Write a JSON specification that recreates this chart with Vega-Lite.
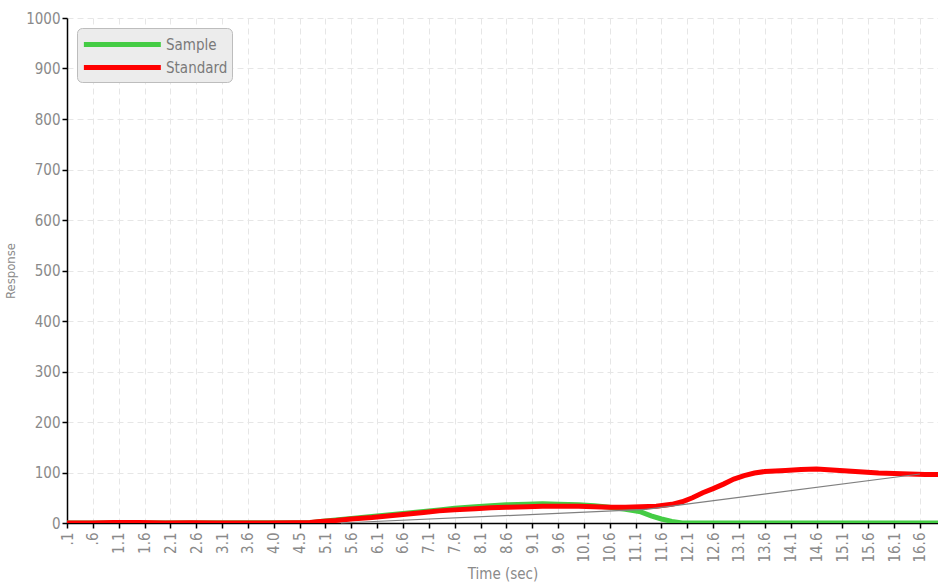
{
  "$schema": "https://vega.github.io/schema/vega-lite/v6.json",
  "width": 871,
  "height": 505,
  "autosize": {"type": "none"},
  "padding": {"left": 67, "top": 18, "right": 0, "bottom": 60},
  "background": "white",
  "config": {
    "font": "Liberation Sans Narrow, DejaVu Sans Condensed, sans-serif",
    "view": {"stroke": null},
    "axis": {
      "domainColor": "#000000",
      "domainWidth": 1.5,
      "tickColor": "#000000",
      "tickSize": 5,
      "tickWidth": 1.5,
      "labelColor": "#8a8a8a",
      "labelFontSize": 15,
      "titleColor": "#8a8a8a",
      "titleFontSize": 15,
      "titleFontWeight": "normal",
      "gridColor": "#e6e6e6",
      "gridDash": [6, 4],
      "gridWidth": 1
    },
    "legend": {
      "orient": "top-left",
      "offset": 10,
      "symbolType": "M-1,0H7",
      "symbolSize": 370,
      "symbolStrokeWidth": 5,
      "labelFontSize": 15,
      "labelColor": "#7a7a7a",
      "labelOffset": 60,
      "fillColor": "#ececec",
      "strokeColor": "#bdbdbd",
      "cornerRadius": 5,
      "padding": 4,
      "rowPadding": 0,
      "title": null
    }
  },
  "datasets": {
    "curves": [
      {"t": 0.1, "v": 0, "series": "Sample"},
      {"t": 4.8, "v": 0.5, "series": "Sample"},
      {"t": 5.0, "v": 3, "series": "Sample"},
      {"t": 5.3, "v": 6, "series": "Sample"},
      {"t": 5.6, "v": 9, "series": "Sample"},
      {"t": 6.0, "v": 13, "series": "Sample"},
      {"t": 6.3, "v": 16, "series": "Sample"},
      {"t": 6.6, "v": 19, "series": "Sample"},
      {"t": 7.0, "v": 23, "series": "Sample"},
      {"t": 7.3, "v": 26, "series": "Sample"},
      {"t": 7.6, "v": 29, "series": "Sample"},
      {"t": 8.0, "v": 32, "series": "Sample"},
      {"t": 8.3, "v": 34, "series": "Sample"},
      {"t": 8.6, "v": 36, "series": "Sample"},
      {"t": 9.0, "v": 37, "series": "Sample"},
      {"t": 9.3, "v": 38, "series": "Sample"},
      {"t": 9.6, "v": 37, "series": "Sample"},
      {"t": 10.0, "v": 36, "series": "Sample"},
      {"t": 10.3, "v": 34, "series": "Sample"},
      {"t": 10.6, "v": 31, "series": "Sample"},
      {"t": 10.9, "v": 27, "series": "Sample"},
      {"t": 11.2, "v": 22, "series": "Sample"},
      {"t": 11.4, "v": 14, "series": "Sample"},
      {"t": 11.6, "v": 8, "series": "Sample"},
      {"t": 11.8, "v": 3, "series": "Sample"},
      {"t": 12.0, "v": 0, "series": "Sample"},
      {"t": 16.95, "v": 0, "series": "Sample"},
      {"t": 0.1, "v": 0, "series": "Standard"},
      {"t": 0.6, "v": 0, "series": "Standard"},
      {"t": 1.0, "v": 1, "series": "Standard"},
      {"t": 1.5, "v": 1, "series": "Standard"},
      {"t": 2.0, "v": 0, "series": "Standard"},
      {"t": 2.5, "v": 0.5, "series": "Standard"},
      {"t": 3.0, "v": 0, "series": "Standard"},
      {"t": 3.5, "v": 0, "series": "Standard"},
      {"t": 4.0, "v": 0, "series": "Standard"},
      {"t": 4.5, "v": 0.5, "series": "Standard"},
      {"t": 4.8, "v": 1, "series": "Standard"},
      {"t": 5.0, "v": 3, "series": "Standard"},
      {"t": 5.3, "v": 5, "series": "Standard"},
      {"t": 5.6, "v": 8, "series": "Standard"},
      {"t": 6.0, "v": 11, "series": "Standard"},
      {"t": 6.3, "v": 14, "series": "Standard"},
      {"t": 6.6, "v": 17, "series": "Standard"},
      {"t": 7.0, "v": 21, "series": "Standard"},
      {"t": 7.3, "v": 24, "series": "Standard"},
      {"t": 7.6, "v": 26, "series": "Standard"},
      {"t": 8.0, "v": 28, "series": "Standard"},
      {"t": 8.3, "v": 30, "series": "Standard"},
      {"t": 8.6, "v": 31, "series": "Standard"},
      {"t": 9.0, "v": 32, "series": "Standard"},
      {"t": 9.3, "v": 33, "series": "Standard"},
      {"t": 9.6, "v": 33, "series": "Standard"},
      {"t": 10.0, "v": 33, "series": "Standard"},
      {"t": 10.3, "v": 32, "series": "Standard"},
      {"t": 10.6, "v": 31, "series": "Standard"},
      {"t": 10.9, "v": 31, "series": "Standard"},
      {"t": 11.2, "v": 32, "series": "Standard"},
      {"t": 11.5, "v": 33, "series": "Standard"},
      {"t": 11.8, "v": 37, "series": "Standard"},
      {"t": 12.0, "v": 42, "series": "Standard"},
      {"t": 12.2, "v": 50, "series": "Standard"},
      {"t": 12.4, "v": 60, "series": "Standard"},
      {"t": 12.6, "v": 68, "series": "Standard"},
      {"t": 12.8, "v": 77, "series": "Standard"},
      {"t": 13.0, "v": 87, "series": "Standard"},
      {"t": 13.2, "v": 94, "series": "Standard"},
      {"t": 13.4, "v": 99, "series": "Standard"},
      {"t": 13.6, "v": 102, "series": "Standard"},
      {"t": 13.8, "v": 103, "series": "Standard"},
      {"t": 14.0, "v": 104, "series": "Standard"},
      {"t": 14.3, "v": 106, "series": "Standard"},
      {"t": 14.6, "v": 107, "series": "Standard"},
      {"t": 14.9, "v": 105, "series": "Standard"},
      {"t": 15.2, "v": 103, "series": "Standard"},
      {"t": 15.5, "v": 101, "series": "Standard"},
      {"t": 15.8, "v": 99, "series": "Standard"},
      {"t": 16.1, "v": 98, "series": "Standard"},
      {"t": 16.4, "v": 97, "series": "Standard"},
      {"t": 16.7, "v": 96, "series": "Standard"},
      {"t": 16.95, "v": 96, "series": "Standard"}
    ],
    "baselines": [
      {"t": 5.4, "v": 0, "seg": "b1"},
      {"t": 11.3, "v": 27, "seg": "b1"},
      {"t": 11.3, "v": 27, "seg": "b2"},
      {"t": 16.6, "v": 97, "seg": "b2"}
    ]
  },
  "layer": [
    {
      "data": {"name": "curves"},
      "mark": {"type": "line", "strokeWidth": 5, "clip": true},
      "encoding": {
        "x": {
          "field": "t",
          "type": "quantitative",
          "scale": {"domain": [0.1, 16.95], "nice": false, "zero": false},
          "axis": {
            "title": "Time (sec)",
            "titlePadding": 4,
            "tickCount": 60,
            "values": [0.1, 0.6, 1.1, 1.6, 2.1, 2.6, 3.1, 3.6, 4.1, 4.6, 5.1, 5.6, 6.1, 6.6, 7.1, 7.6, 8.1, 8.6, 9.1, 9.6, 10.1, 10.6, 11.1, 11.6, 12.1, 12.6, 13.1, 13.6, 14.1, 14.6, 15.1, 15.6, 16.1, 16.6],
            "labelExpr": "datum.value < 1 ? substring(format(datum.value, '.1f'), 1) : (abs(datum.value - 4.1) < 0.01 ? '4.0' : (abs(datum.value - 4.6) < 0.01 ? '4.5' : format(datum.value, '.1f')))",
            "labelAngle": -90,
            "labelOverlap": false,
            "labelPadding": 4,
            "grid": true
          }
        },
        "y": {
          "field": "v",
          "type": "quantitative",
          "scale": {"domain": [0, 1000], "nice": false},
          "axis": {
            "title": "Response",
            "titleFontSize": 13,
            "titlePadding": 8,
            "format": "d",
            "values": [0, 100, 200, 300, 400, 500, 600, 700, 800, 900, 1000],
            "labelPadding": 2,
            "grid": true
          }
        },
        "color": {
          "field": "series",
          "type": "nominal",
          "scale": {"domain": ["Sample", "Standard"], "range": ["#44cc44", "#ff0000"]},
          "legend": {}
        }
      }
    },
    {
      "data": {"name": "baselines"},
      "mark": {"type": "line", "strokeWidth": 1.2, "color": "#808080"},
      "encoding": {
        "x": {"field": "t", "type": "quantitative"},
        "y": {"field": "v", "type": "quantitative"},
        "detail": {"field": "seg", "type": "nominal"}
      }
    }
  ]
}
